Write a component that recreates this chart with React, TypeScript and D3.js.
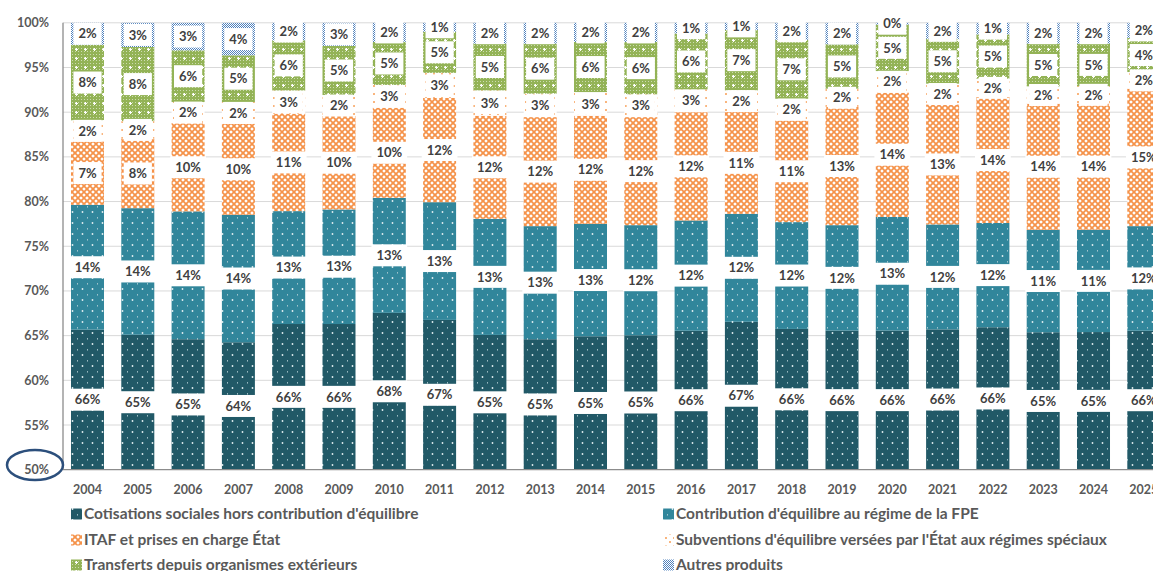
import { useEffect, useRef } from 'react';
import * as d3 from 'd3';

const years = ['2004', '2005', '2006', '2007', '2008', '2009', '2010', '2011', '2012', '2013', '2014',
  '2015', '2016', '2017', '2018', '2019', '2020', '2021', '2022', '2023', '2024', '2025'];

// shares in % (each year sums to ~100)
const cotisations = [65.6, 65.1, 64.6, 64.26, 66.3, 66.3, 67.55, 66.76, 65.08, 64.6, 64.93, 65.04, 65.55, 66.55, 65.75, 65.57, 65.57, 65.7, 65.94, 65.38, 65.4, 65.55];
const contributionFpe = [13.96, 14.16, 14.3, 14.26, 12.63, 12.82, 12.87, 13.17, 12.99, 12.65, 12.58, 12.32, 12.33, 12.08, 11.95, 11.79, 12.71, 11.74, 11.66, 11.46, 11.45, 11.7];
const itaf = [7.09, 7.77, 9.88, 10.19, 10.9, 10.45, 10.08, 11.67, 11.53, 12.2, 12.09, 12.09, 12.12, 11.4, 11.38, 13.24, 13.92, 13.43, 14.09, 14.11, 14.12, 15.38];
const subventions = [2.35, 1.97, 2.35, 2.42, 2.6, 2.35, 2.55, 2.8, 2.84, 2.62, 2.65, 2.55, 2.55, 2.41, 2.42, 2.03, 2.4, 2.32, 2.06, 1.94, 1.94, 1.86];
const transferts = [8.45, 8.29, 5.79, 5.23, 5.61, 5.49, 4.8, 4.6, 5.23, 5.6, 5.6, 5.85, 6.25, 6.76, 6.6, 4.97, 5.2, 5.01, 4.95, 4.78, 4.76, 3.81];
const autres = [2.45, 2.71, 3.08, 3.64, 1.96, 2.59, 2.15, 1.0, 2.33, 2.33, 2.15, 2.15, 1.2, 0.8, 1.9, 2.4, 0.2, 1.8, 1.3, 2.33, 2.33, 1.7];

const seriesKeys = ['cot', 'fpe', 'itaf', 'subv', 'trans', 'autres'];
const seriesNames = [
  "Cotisations sociales hors contribution d'équilibre",
  "Contribution d'équilibre au régime de la FPE",
  'ITAF et prises en charge État',
  "Subventions d'équilibre versées par l'État aux régimes spéciaux",
  'Transferts depuis organismes extérieurs',
  'Autres produits',
];
const yTicks = [0.5, 0.55, 0.6, 0.65, 0.7, 0.75, 0.8, 0.85, 0.9, 0.95, 1];

export default function App() {
  const ref = useRef<SVGSVGElement | null>(null);

  useEffect(() => {
    if (!ref.current) return;
    const svg = d3.select(ref.current);
    svg.selectAll('*').remove();

    const width = 1153;
    const margin = { left: 63, top: 22.8, bottom: 469.7 };

    const rows = years.map((year, i) => ({
      year,
      cot: cotisations[i],
      fpe: contributionFpe[i],
      itaf: itaf[i],
      subv: subventions[i],
      trans: transferts[i],
      autres: autres[i],
    }));

    const stack = d3.stack<any>().keys(seriesKeys).offset(d3.stackOffsetExpand);
    const series = stack(rows);

    const x = d3.scaleBand()
      .domain(years)
      .range([margin.left, 1168.3])
      .paddingInner(0.344)
      .paddingOuter(0.159);

    const y = d3.scaleLinear()
      .domain([0.5, 1])
      .range([margin.bottom, margin.top])
      .clamp(true);

    // patterns
    const defs = svg.append('defs');

    const dots = (id: string, color: string) => {
      const p = defs.append('pattern').attr('id', id)
        .attr('patternUnits', 'userSpaceOnUse').attr('width', 10).attr('height', 11);
      p.append('rect').attr('width', 10).attr('height', 11).attr('fill', color);
      p.append('circle').attr('cx', 2.5).attr('cy', 3).attr('r', 0.9).attr('fill', '#e2eef1');
      p.append('rect').attr('x', 7).attr('y', 8).attr('width', 0.8).attr('height', 1.6).attr('fill', '#b9d2d8');
    };
    dots('pCot', '#215967');
    dots('pFpe', '#31869b');

    const ph = defs.append('pattern').attr('id', 'pItaf')
      .attr('patternUnits', 'userSpaceOnUse').attr('width', 6).attr('height', 6);
    ph.append('rect').attr('width', 6).attr('height', 6).attr('fill', '#fff');
    ph.append('path').attr('d', 'M0,0L6,6M6,0L0,6M-1,5L1,7M5,-1L7,1M5,7L7,5M-1,1L1,-1')
      .attr('stroke', '#f59249').attr('stroke-width', 1.7);

    const ps = defs.append('pattern').attr('id', 'pSubv')
      .attr('patternUnits', 'userSpaceOnUse').attr('width', 8).attr('height', 8);
    ps.append('rect').attr('width', 8).attr('height', 8).attr('fill', '#fff');
    ps.append('circle').attr('cx', 2).attr('cy', 2).attr('r', 0.95).attr('fill', '#f79646');
    ps.append('circle').attr('cx', 6).attr('cy', 6).attr('r', 0.95).attr('fill', '#f79646');

    const pf = defs.append('pattern').attr('id', 'pTransFine')
      .attr('patternUnits', 'userSpaceOnUse').attr('width', 3).attr('height', 3);
    pf.append('rect').attr('width', 3).attr('height', 3).attr('fill', '#93b356');
    pf.append('rect').attr('width', 1).attr('height', 1).attr('fill', '#cddcb0');
    const pt = defs.append('pattern').attr('id', 'pTrans')
      .attr('patternUnits', 'userSpaceOnUse').attr('width', 9).attr('height', 9);
    pt.append('rect').attr('width', 9).attr('height', 9).attr('fill', 'url(#pTransFine)');
    pt.append('path').attr('d', 'M4.5,3V6M3,4.5H6').attr('stroke', '#fff').attr('stroke-width', 1);

    const pa = defs.append('pattern').attr('id', 'pAutres')
      .attr('patternUnits', 'userSpaceOnUse').attr('width', 2).attr('height', 2);
    pa.append('rect').attr('width', 2).attr('height', 2).attr('fill', '#fff');
    pa.append('rect').attr('width', 1).attr('height', 1).attr('fill', '#4f81bd');
    pa.append('rect').attr('x', 1).attr('y', 1).attr('width', 1).attr('height', 1).attr('fill', '#4f81bd');

    const fills: Record<string, string> = {
      cot: 'url(#pCot)', fpe: 'url(#pFpe)', itaf: 'url(#pItaf)',
      subv: 'url(#pSubv)', trans: 'url(#pTrans)', autres: 'url(#pAutres)',
    };

    // grid lines
    svg.append('g')
      .selectAll('line')
      .data(yTicks.slice(1))
      .join('line')
      .attr('x1', margin.left).attr('x2', width)
      .attr('y1', d => y(d)).attr('y2', d => y(d))
      .attr('stroke', '#d9d9d9').attr('stroke-width', 1);

    // bars
    svg.append('g')
      .selectAll('g')
      .data(series)
      .join('g')
      .attr('fill', s => fills[s.key])
      .selectAll('rect')
      .data(s => s)
      .join('rect')
      .attr('x', d => x(d.data.year)!)
      .attr('width', x.bandwidth())
      .attr('y', d => y(d[1]))
      .attr('height', d => Math.max(0, y(d[0]) - y(d[1])));

    // axes lines
    svg.append('line')
      .attr('x1', margin.left).attr('x2', margin.left)
      .attr('y1', margin.top).attr('y2', margin.bottom)
      .attr('stroke', '#8c8c8c').attr('stroke-width', 1.3);
    svg.append('line')
      .attr('x1', margin.left).attr('x2', width)
      .attr('y1', margin.bottom).attr('y2', margin.bottom)
      .attr('stroke', '#8c8c8c').attr('stroke-width', 1.3);

    // data labels with white boxes
    const labels = svg.append('g')
      .attr('font-size', 13).attr('font-weight', 700).attr('fill', '#404040');
    series.forEach(s => {
      s.forEach(d => {
        const cx = x(d.data.year)! + x.bandwidth() / 2;
        const cy = (y(d[0]) + y(d[1])) / 2;
        const g = labels.append('g').attr('transform', `translate(${cx},${cy})`);
        const rect = g.append('rect').attr('fill', '#fff');
        const t = g.append('text')
          .attr('text-anchor', 'middle')
          .attr('dy', '0.36em')
          .text(Math.round((d[1] - d[0]) * 100) + '%');
        const w = (t.node() as SVGTextElement).getComputedTextLength() + 10;
        rect.attr('x', -w / 2).attr('y', -11).attr('width', w).attr('height', 22);
      });
    });

    // y axis
    const yAxis = svg.append('g')
      .attr('transform', `translate(${margin.left},0)`)
      .call(d3.axisLeft(y).tickValues(yTicks).tickFormat(d3.format('.0%')).tickSize(0).tickPadding(14));
    yAxis.select('.domain').remove();
    yAxis.selectAll('text')
      .attr('font-family', 'Lato, "Open Sans", sans-serif')
      .attr('font-size', 12.5).attr('font-weight', 700).attr('fill', '#595959');

    // x axis
    const xAxis = svg.append('g')
      .attr('transform', `translate(0,${margin.bottom})`)
      .call(d3.axisBottom(x).tickSize(0).tickPadding(15));
    xAxis.select('.domain').remove();
    xAxis.selectAll('text')
      .attr('font-family', 'Lato, "Open Sans", sans-serif')
      .attr('font-size', 12.5).attr('font-weight', 700).attr('fill', '#595959');

    // circle round the 50% label
    svg.append('ellipse')
      .attr('cx', 35).attr('cy', 465).attr('rx', 28).attr('ry', 15)
      .attr('fill', 'none').attr('stroke', '#2c4f7c').attr('stroke-width', 2.5);

    // legend
    const legendPos = [[71, 514], [663, 514], [71, 540], [663, 540], [71, 565], [663, 565]];
    const legend = svg.append('g')
      .attr('font-size', 15.5).attr('font-weight', 700).attr('fill', '#595959');
    seriesKeys.forEach((k, i) => {
      const [lx, ly] = legendPos[i];
      legend.append('rect')
        .attr('x', lx).attr('y', ly - 5.5).attr('width', 11).attr('height', 11)
        .attr('fill', fills[k]);
      legend.append('text')
        .attr('x', lx + 13).attr('y', ly).attr('dy', '0.35em')
        .text(seriesNames[i]);
    });
  }, []);

  return (
    <svg
      ref={ref}
      width={1153}
      height={571}
      style={{ position: 'absolute', left: 0, top: 0, background: '#fff', fontFamily: 'Lato, "Open Sans", sans-serif' }}
    />
  );
}
